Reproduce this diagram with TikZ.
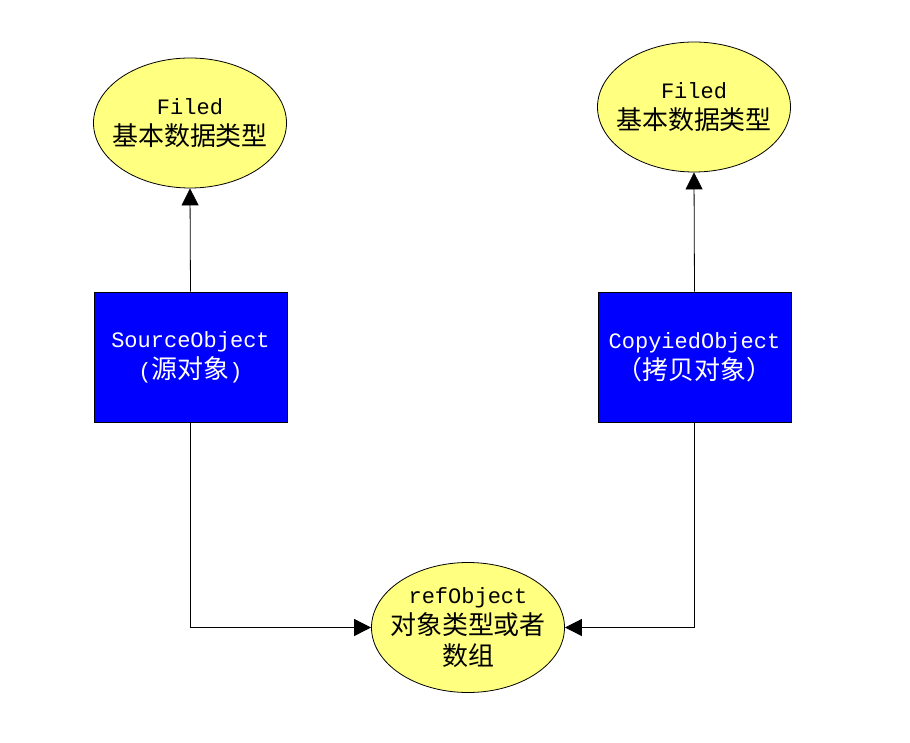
\documentclass[tikz,border=0pt]{standalone}
\usepackage{fontspec}
\setmainfont{Liberation Mono}
\newfontfamily\cjk{Noto Sans CJK SC}[Scale=1.18]
\usetikzlibrary{shapes.geometric,arrows.meta}
\definecolor{elly}{RGB}{255,255,128}
\definecolor{boxb}{RGB}{0,0,255}
\tikzset{
  ellnode/.style={ellipse, draw=black, line width=0.8pt, fill=elly, minimum width=193pt, minimum height=130pt, inner xsep=-14pt, inner ysep=-6pt, align=center, font=\fontsize{22}{31}\selectfont},
  boxnode/.style={rectangle, draw=black, line width=0.8pt, fill=boxb, minimum width=193pt, minimum height=130pt, inner sep=0pt, align=center, text=white, font=\fontsize{22}{31}\selectfont},
  arr/.style={draw=black, line width=0.8pt, -{Triangle[length=17pt,width=17pt]}}
}
\begin{document}
\begin{tikzpicture}[x=1pt,y=-1pt]
\useasboundingbox (0,0) rectangle (910,743);
\node[ellnode] (f1) at (190,123) {Filed\\{\cjk 基本数据类型}};
\node[ellnode] (f2) at (694,107) {Filed\\{\cjk 基本数据类型}};
\node[boxnode] (s) at (190.5,357) {SourceObject\\({\cjk 源对象})};
\node[boxnode] (c) at (694.5,357) {CopyiedObject\\{\cjk （拷贝对象）}};
\node[ellnode] (r) at (468,627.5) {refObject\\{\cjk 对象类型或者}\\{\cjk 数组}};
\draw[arr] (s.north) -- (f1.south);
\draw[arr] (c.north) -- (f2.south);
\draw[arr] (s.south) |- (r.west);
\draw[arr] (c.south) |- (r.east);
\end{tikzpicture}
\end{document}
